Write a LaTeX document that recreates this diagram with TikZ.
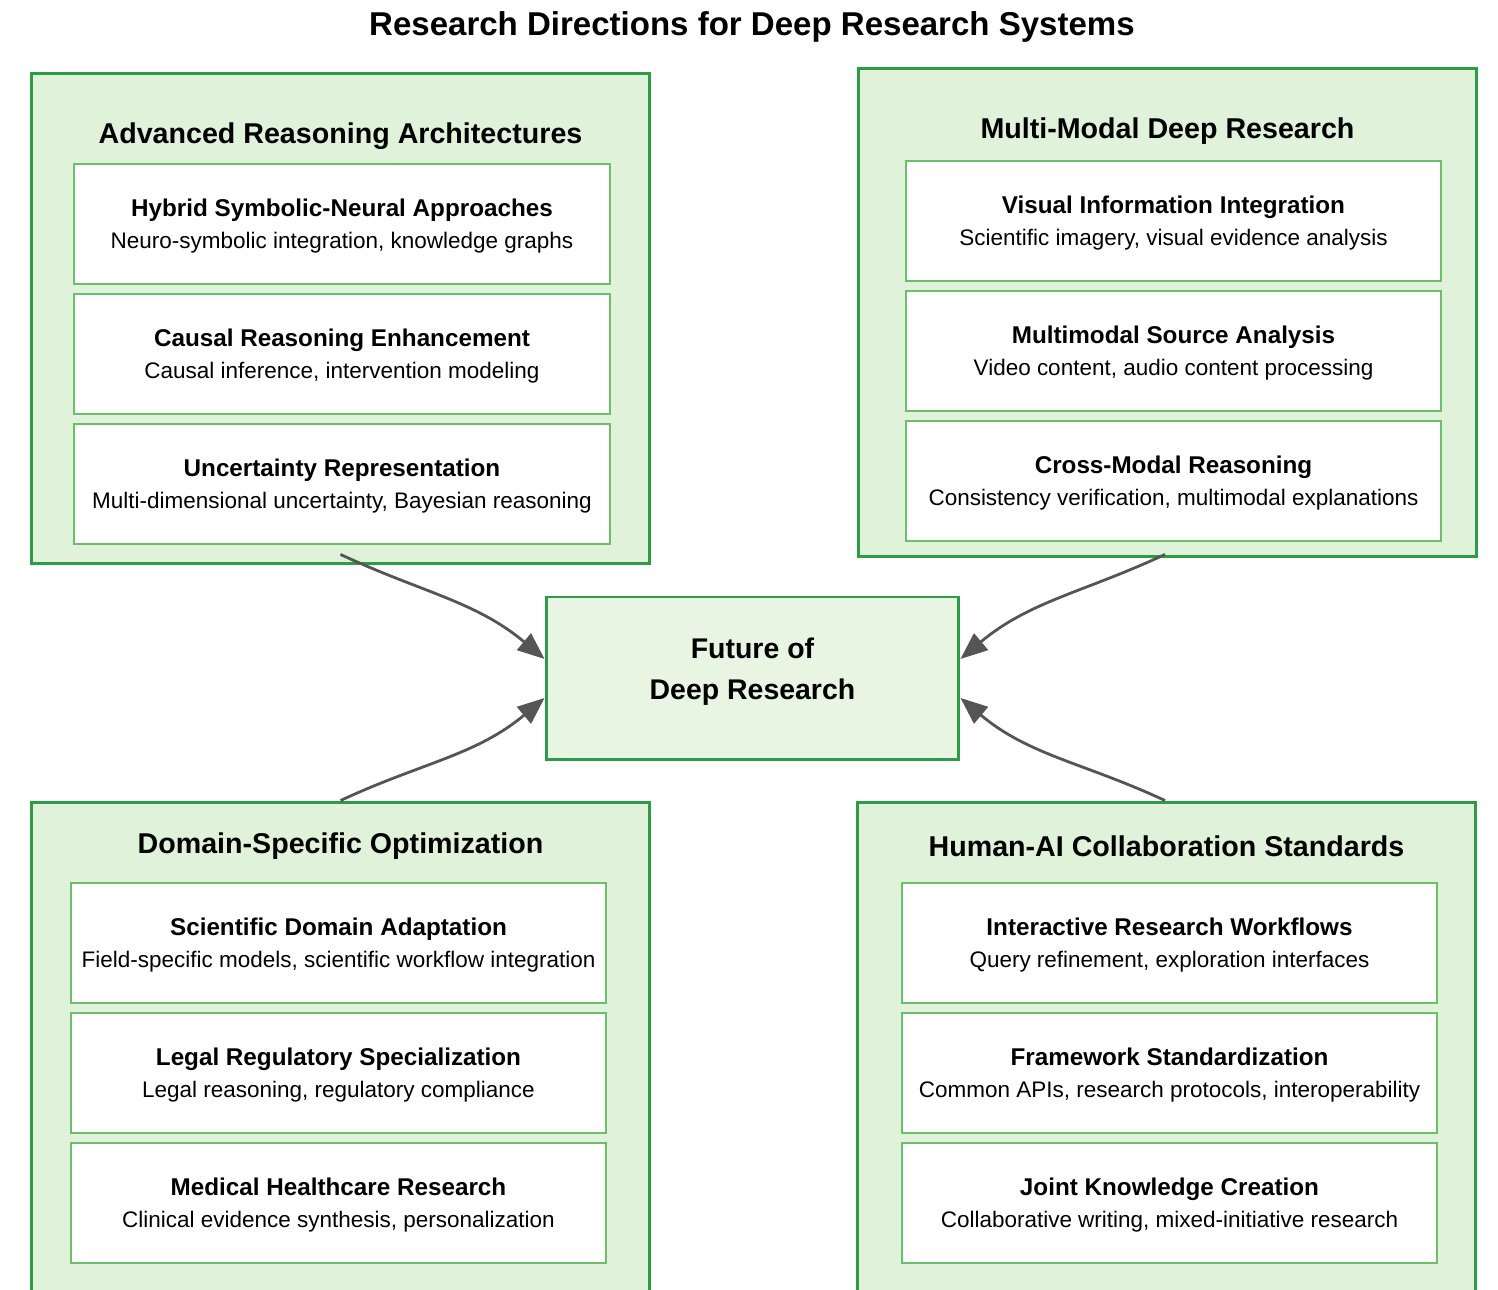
\documentclass[tikz,border=0pt]{standalone}
\usepackage{fontspec}
\setmainfont{Liberation Sans}
\usepackage{xcolor}
\usetikzlibrary{arrows.meta, positioning}

\definecolor{groupline}{HTML}{2E9B47}
\definecolor{groupfill}{HTML}{E0F3DA}
\definecolor{itemline}{HTML}{6ABF69}
\definecolor{hubfill}{HTML}{E8F5E3}
\definecolor{arrowgray}{HTML}{555555}

\newcommand{\itemtext}[2]{{\fontsize{13.8}{18}\selectfont\bfseries\rule{0pt}{12.5pt}#1}\\#2}

\begin{document}
\begin{tikzpicture}[
    x=0.02cm, y=0.02cm,
    group/.style={draw=groupline, fill=groupfill, line width=1.7pt,
                  minimum width=12.38cm, inner sep=0pt},
    grouptitle/.style={font=\fontsize{16.3}{20}\selectfont\bfseries},
    item/.style={draw=itemline, fill=white, line width=1.1pt, minimum width=10.72cm,
                 minimum height=2.4cm, align=center, inner sep=0pt,
                 font=\fontsize{12.8}{18}\selectfont},
    hub/.style={draw=groupline, fill=hubfill, line width=1.7pt, minimum width=8.26cm,
                minimum height=3.26cm, align=center, text depth=11.3pt,
                font=\fontsize{16.2}{23}\selectfont\bfseries},
    arr/.style={-{Triangle[length=0.54cm, width=0.43cm]}, draw=arrowgray, line width=1.6pt},
    node distance=0.16cm
]
\useasboundingbox (0,0) rectangle (1498,1290);

\node[font=\fontsize{18.8}{22}\selectfont\bfseries] (title) at (752,1263)
    {Research Directions for Deep Research Systems};

\node[group, minimum height=9.82cm] (arch) at (340.5,971.5) {};
\node[grouptitle] (archtitle) at (340.5,1154) {Advanced Reasoning Architectures};
\node[item] (hybrid) at (342,1066)
    {\itemtext{Hybrid Symbolic-Neural Approaches}{Neuro-symbolic integration, knowledge graphs}};
\node[item, below=of hybrid] (causal)
    {\itemtext{Causal Reasoning Enhancement}{Causal inference, intervention modeling}};
\node[item, below=of causal] (uncert)
    {\itemtext{Uncertainty Representation}{Multi-dimensional uncertainty, Bayesian reasoning}};

\node[group, minimum height=9.78cm] (modal) at (1167.5,977.5) {};
\node[grouptitle] (modaltitle) at (1167.5,1159) {Multi-Modal Deep Research};
\node[item] (visual) at (1173.5,1069)
    {\itemtext{Visual Information Integration}{Scientific imagery, visual evidence analysis}};
\node[item, below=of visual] (multisrc)
    {\itemtext{Multimodal Source Analysis}{Video content, audio content processing}};
\node[item, below=of multisrc] (crossmodal)
    {\itemtext{Cross-Modal Reasoning}{Consistency verification, multimodal explanations}};

\node[hub] (hub) at (752.5,611.5) {Future of\\Deep Research};

\node[group, minimum height=10.16cm] (domain) at (340.5,234) {};
\node[grouptitle] (domaintitle) at (340.5,444) {Domain-Specific Optimization};
\node[item] (sciadapt) at (338.5,347)
    {\itemtext{Scientific Domain Adaptation}{Field-specific models, scientific workflow integration}};
\node[item, below=of sciadapt] (legal)
    {\itemtext{Legal Regulatory Specialization}{Legal reasoning, regulatory compliance}};
\node[item, below=of legal] (medical)
    {\itemtext{Medical Healthcare Research}{Clinical evidence synthesis, personalization}};

\node[group, minimum height=10.16cm] (collab) at (1166.5,234) {};
\node[grouptitle] (collabtitle) at (1166.5,444) {Human-AI Collaboration Standards};
\node[item] (interactive) at (1169.5,347)
    {\itemtext{Interactive Research Workflows}{Query refinement, exploration interfaces}};
\node[item, below=of interactive] (framework)
    {\itemtext{Framework Standardization}{Common APIs, research protocols, interoperability}};
\node[item, below=of framework] (joint)
    {\itemtext{Joint Knowledge Creation}{Collaborative writing, mixed-initiative research}};

\draw[arr] ([yshift=0.22cm]arch.south) to[out=-25, in=140] ([yshift=0.39cm]hub.west);
\draw[arr] ([xshift=-0.05cm, yshift=0.08cm]modal.south) to[out=-155, in=40] ([yshift=0.39cm]hub.east);
\draw[arr] (domain.north) to[out=25, in=-140] ([yshift=-0.39cm]hub.west);
\draw[arr] ([xshift=-0.03cm]collab.north) to[out=155, in=-40] ([yshift=-0.39cm]hub.east);
\end{tikzpicture}
\end{document}
